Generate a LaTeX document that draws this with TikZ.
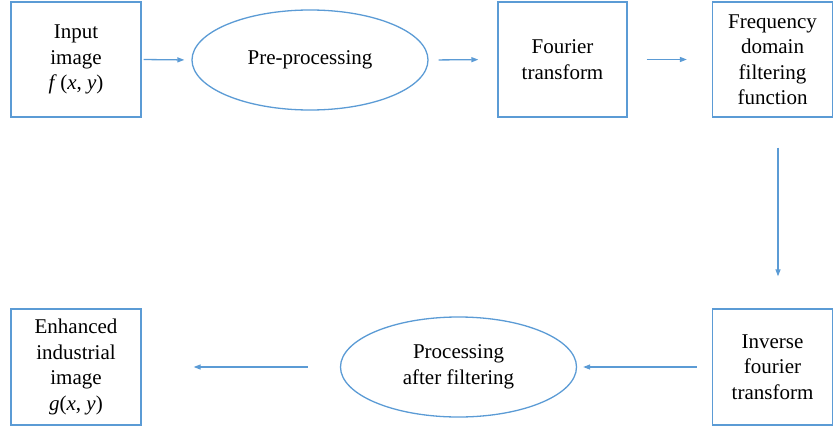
\documentclass[tikz,border=0pt]{standalone}
\usepackage{amsmath}
\usepackage{fontspec}
\setmainfont{Liberation Serif}
\usepackage{tikz}
\usetikzlibrary{arrows.meta,shapes.geometric}
\definecolor{lineblue}{HTML}{5B9BD5}

\begin{document}
\begin{tikzpicture}[x=1pt,y=-1pt,
  every node/.style={align=center,font=\fontsize{21}{25.5}\selectfont,inner sep=0pt},
  box/.style={draw=lineblue,line width=1.3pt,minimum width=130pt,minimum height=115pt},
  oval/.style={draw=lineblue,line width=1.3pt,ellipse,minimum width=236pt,minimum height=100pt},
  flow/.style={draw=lineblue,line width=1.3pt,-{Triangle[length=7pt,width=5pt]}}]
  \useasboundingbox (0,0) rectangle (834,428);
  \node[box] (input) at (76,59.5) {Input\\image\\\textit{f}\,(\textit{x}, \textit{y})};
  \node[oval] (pre) at (310,60) {Pre-processing};
  \node[box,minimum width=129pt] (fourier) at (562.5,59.5) {Fourier\\transform};
  \node[box,minimum width=120pt] (freq) at (772.5,59.5) {Frequency\\domain\\filtering\\function};
  \node[box,minimum width=120pt,minimum height=116pt] (inverse) at (772.5,367) {Inverse\\fourier\\transform};
  \node[oval] (post) at (458.5,367) {Processing\\after filtering};
  \node[box,minimum height=116pt] (enh) at (76,367) {Enhanced\\industrial\\image\\\textit{g}(\textit{x}, \textit{y})};
  \draw[flow,shorten <=2pt,shorten >=7pt] (input.east) to (pre.west);
  \draw[flow,shorten <=10pt,shorten >=19pt] (pre.east) to (fourier.west);
  \draw[flow,shorten <=19pt,shorten >=25pt] (fourier.east) to (freq.west);
  \draw[flow,shorten <=30pt,shorten >=32pt] ([xshift=5.5pt]freq.south) to ([xshift=5.5pt]inverse.north);
  \draw[flow,shorten <=15pt,shorten >=6pt] (inverse.west) to (post.east);
  \draw[flow,shorten <=32pt,shorten >=52pt] (post.west) to (enh.east);
\end{tikzpicture}
\end{document}
